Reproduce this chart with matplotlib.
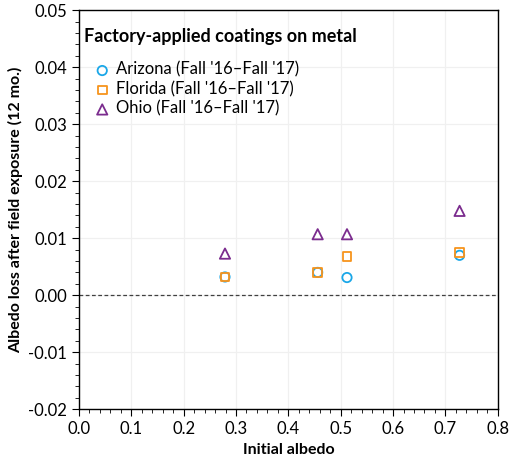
import numpy as np
import matplotlib.pyplot as plt
from matplotlib.ticker import MultipleLocator

plt.rcParams['font.family'] = ['Lato', 'DejaVu Sans']

albedo = [0.279, 0.456, 0.512, 0.727]
arizona = [0.0032, 0.0040, 0.0031, 0.0070]
florida = [0.0032, 0.0040, 0.0068, 0.0075]
ohio = [0.0073, 0.0107, 0.0107, 0.0148]

labels = ["Arizona (Fall '16\u2013Fall '17)",
          "Florida (Fall '16\u2013Fall '17)",
          "Ohio (Fall '16\u2013Fall '17)"]

fig = plt.figure(figsize=(5.09, 4.65), dpi=100)
ax = fig.add_axes([0.155, 0.12, 0.823, 0.858])

ax.scatter(albedo, arizona, s=45, marker='o', facecolors='none', edgecolors='#1AA7E8', linewidths=1.3, label=labels[0], zorder=3)
ax.scatter(albedo, florida, s=40, marker='s', facecolors='none', edgecolors='#F7941D', linewidths=1.3, label=labels[1], zorder=3)
ax.scatter(albedo, ohio, s=55, marker='^', facecolors='none', edgecolors='#7B2C8E', linewidths=1.3, label=labels[2], zorder=3)

ax.axhline(0, color='#404040', linestyle=(0, (3, 2)), linewidth=0.9, zorder=2)

ax.set_xlim(0, 0.8)
ax.set_ylim(-0.02, 0.05)
ax.xaxis.set_major_locator(MultipleLocator(0.1))
ax.xaxis.set_minor_locator(MultipleLocator(0.02))
ax.yaxis.set_major_locator(MultipleLocator(0.01))
ax.yaxis.set_minor_locator(MultipleLocator(0.002))
ax.xaxis.set_major_formatter(plt.FormatStrFormatter('%.1f'))
ax.yaxis.set_major_formatter(plt.FormatStrFormatter('%.2f'))
ax.tick_params(which='major', length=5, labelsize=12, color='black')
ax.tick_params(which='minor', length=3, color='black')
ax.grid(True, which='major', color='#F0F0F0', linewidth=0.9, zorder=0)
ax.set_axisbelow(True)
for s in ax.spines.values():
    s.set_color('black')
    s.set_linewidth(1)

ax.set_xlabel('Initial albedo', fontsize=11.5, fontweight='bold')
ax.set_ylabel('Albedo loss after field exposure (12 mo.)', fontsize=11.5, fontweight='bold')

ax.text(0.013, 0.955, 'Factory-applied coatings on metal', transform=ax.transAxes,
        fontsize=13, fontweight='bold', va='top', ha='left')
ax.legend(loc='upper left', bbox_to_anchor=(0.0, 0.9), frameon=False, fontsize=12,
          handletextpad=0.1, borderaxespad=0.3, labelspacing=0.2, handlelength=1.4)

fig.savefig('out.png', dpi=100)
